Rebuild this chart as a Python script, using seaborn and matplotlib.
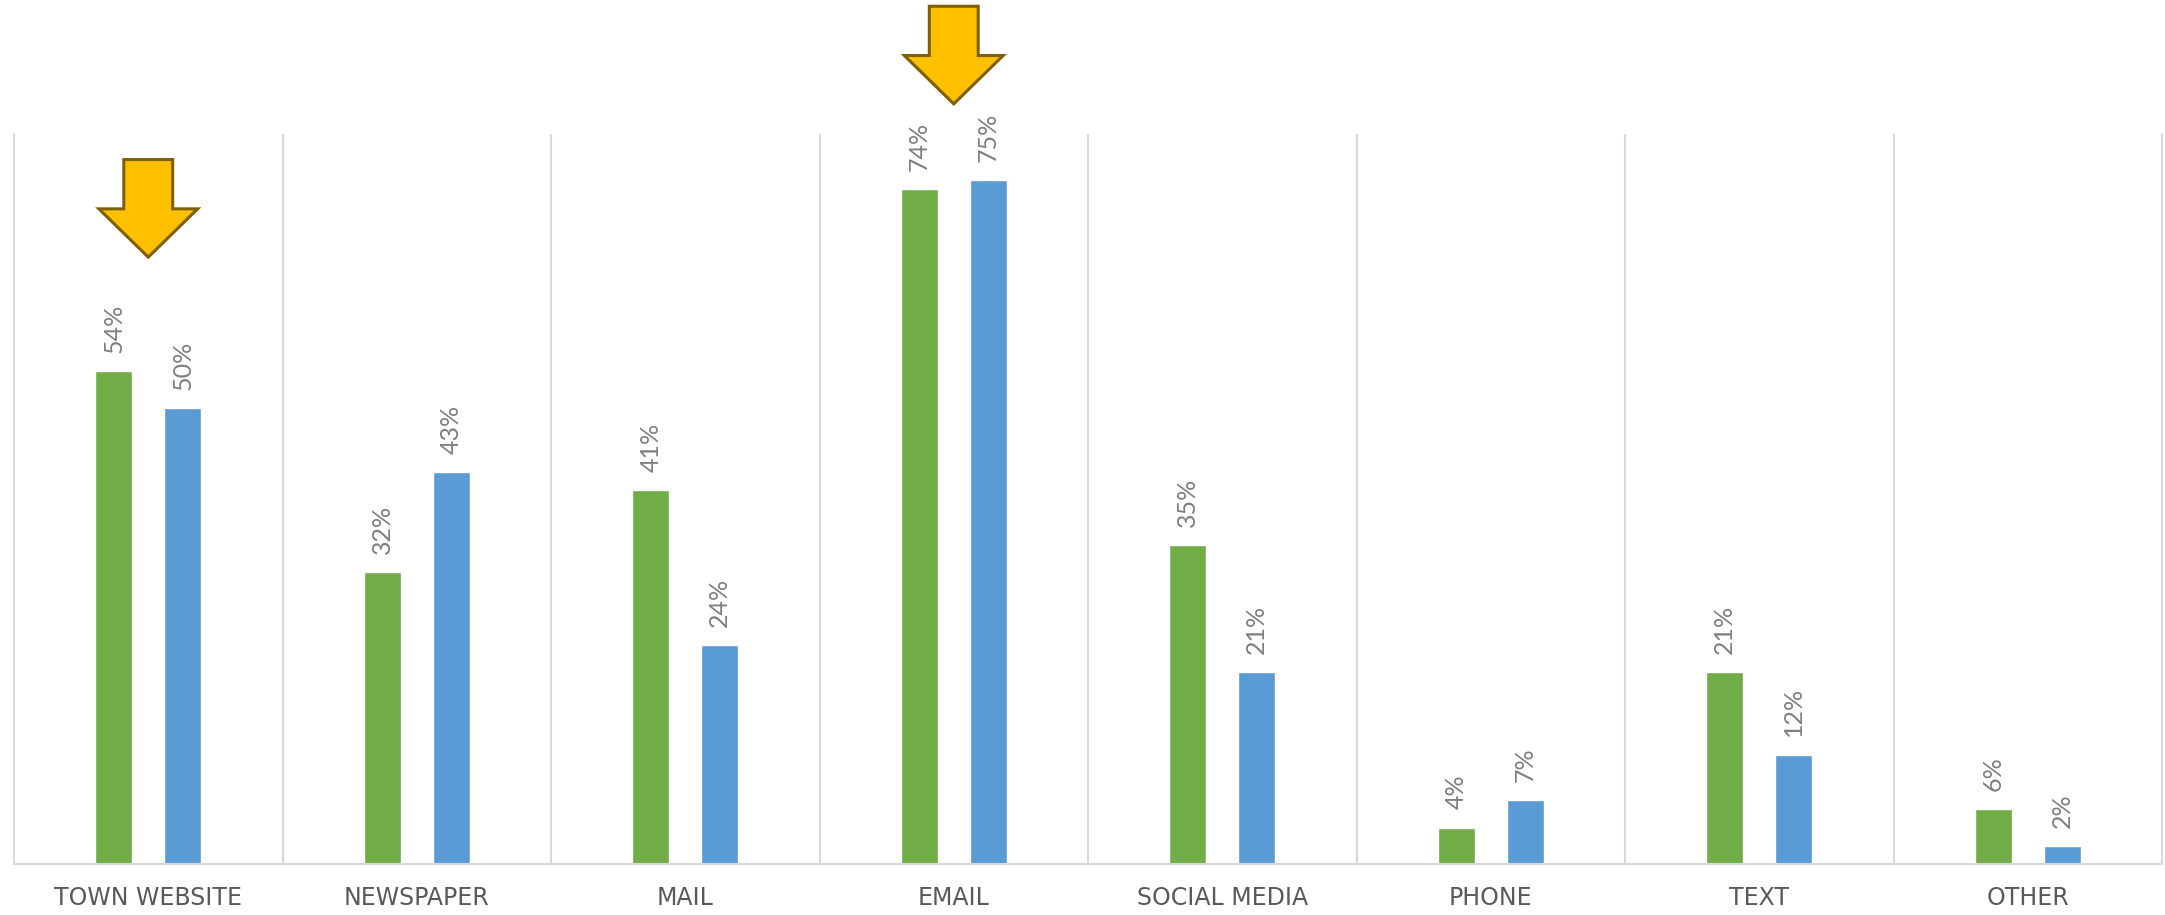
import matplotlib
matplotlib.use("Agg")
import matplotlib.pyplot as plt
import seaborn as sns
import pandas as pd
from matplotlib.patches import Polygon

categories = ["TOWN WEBSITE", "NEWSPAPER", "MAIL", "EMAIL", "SOCIAL MEDIA", "PHONE", "TEXT", "OTHER"]
series_names = ["Series 1", "Series 2"]
green_values = [54, 32, 41, 74, 35, 4, 21, 6]
blue_values = [50, 43, 24, 75, 21, 7, 12, 2]
colors = ["#70AD47", "#5B9BD5"]
arrow_categories = ["TOWN WEBSITE", "EMAIL"]
arrow_tips = [66.5, 83.3]

df = pd.DataFrame({
    "category": categories * 2,
    "series": [series_names[0]] * len(categories) + [series_names[1]] * len(categories),
    "value": green_values + blue_values,
})

sns.set_theme(style="white")
plt.rcParams["font.family"] = ["Lato", "DejaVu Sans"]

fig = plt.figure(figsize=(21.65, 9.15), dpi=100)
ax = fig.add_axes([14 / 2165, 51 / 915, (2162 - 14) / 2165, (864 - 134) / 915])

sns.barplot(data=df, x="category", y="value", hue="series", order=categories,
            hue_order=series_names, palette=colors, width=0.513, gap=0.46,
            saturation=1, legend=False, ax=ax, errorbar=None)

for cont in ax.containers:
    ax.bar_label(cont, labels=[f"{v:.0f}%" for v in cont.datavalues], rotation=90,
                 padding=13, color="#7F7F7F", fontsize=18, family=["Lato", "DejaVu Sans"])

ax.set_xlim(-0.5, len(categories) - 0.5)
ax.set_ylim(0, 80)
ax.set_yticks([])
ax.set_xlabel("")
ax.set_ylabel("")
ax.set_xticks(range(len(categories)))
ax.set_xticklabels(categories, family=["DejaVu Sans"], fontsize=17, color="#595959")
ax.tick_params(axis="x", length=0, pad=16)

ax.set_xticks([i + 0.5 for i in range(len(categories) - 1)], minor=True)
ax.tick_params(axis="x", which="minor", length=0)
ax.grid(False)
ax.grid(True, axis="x", which="minor", color="#D9D9D9", linewidth=1.5)

for side in ["left", "right", "bottom"]:
    ax.spines[side].set_visible(True)
    ax.spines[side].set_color("#D9D9D9")
    ax.spines[side].set_linewidth(1.5)
ax.spines["top"].set_visible(False)

for cat, tip in zip(arrow_categories, arrow_tips):
    x = categories.index(cat)
    sw, hw, hh, L = 0.091, 0.184, 5.3, 10.7
    pts = [(x - sw, tip + L), (x + sw, tip + L), (x + sw, tip + hh), (x + hw, tip + hh),
           (x, tip), (x - hw, tip + hh), (x - sw, tip + hh)]
    ax.add_patch(Polygon(pts, closed=True, facecolor="#FFC000", edgecolor="#7F6000",
                         linewidth=2.2, joinstyle="miter", clip_on=False, zorder=5))

fig.savefig("out.png", dpi=100, facecolor="white")
